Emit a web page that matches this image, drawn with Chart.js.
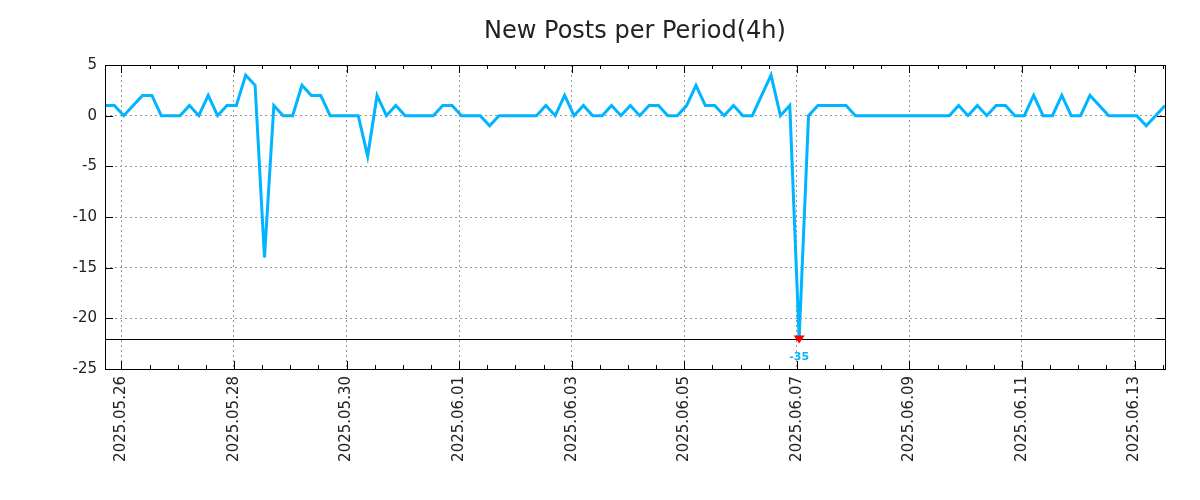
<!DOCTYPE html>
<html>
<head>
<meta charset="utf-8">
<script src="https://cdn.jsdelivr.net/npm/chart.js@4/dist/chart.umd.min.js"></script>
<style>
  html, body { margin: 0; padding: 0; background: #ffffff; }
  #wrap { width: 1200px; height: 500px; position: relative; }
</style>
</head>
<body>
<div id="wrap"><canvas id="c" width="1200" height="500"></canvas></div>
<script>
// ---- data ----
const chartTitle = 'New Posts per Period(4h)';
const periodStart = Date.UTC(2025, 4, 25, 17, 0); // first 4h period
const periodHours = 4;
const newPosts = [
  1, 1, 0, 1, 2, 2, 0, 0, 0, 1,
  0, 2, 0, 1, 1, 4, 3, -14, 1, 0,
  0, 3, 2, 2, 0, 0, 0, 0, -4, 2,
  0, 1, 0, 0, 0, 0, 1, 1, 0, 0,
  0, -1, 0, 0, 0, 0, 0, 1, 0, 2,
  0, 1, 0, 0, 1, 0, 1, 0, 1, 1,
  0, 0, 1, 3, 1, 1, 0, 1, 0, 0,
  2, 4, 0, 1, -35, 0, 1, 1, 1, 1,
  0, 0, 0, 0, 0, 0, 0, 0, 0, 0,
  0, 1, 0, 1, 0, 1, 1, 0, 0, 2,
  0, 0, 2, 0, 0, 2, 1, 0, 0, 0,
  0, -1, 0, 1
];
const xTickLabels = ['2025.05.26', '2025.05.28', '2025.05.30', '2025.06.01', '2025.06.03',
                     '2025.06.05', '2025.06.07', '2025.06.09', '2025.06.11', '2025.06.13'];
const yTickValues = [-25, -20, -15, -10, -5, 0, 5];
const yMin = -25, yMax = 5;
const clipFloor = -22;

// ---- derived ----
const H = 3600 * 1000;
const origin = Date.UTC(2025, 4, 26, 0, 0);
const toHours = ms => (ms - origin) / H;
const labelToHours = s => {
  const [y, m, d] = s.split('.').map(Number);
  return toHours(Date.UTC(y, m - 1, d));
};
const xs = newPosts.map((_, i) => toHours(periodStart + i * periodHours * H));
const points = newPosts.map((v, i) => ({ x: xs[i], y: Math.max(v, clipFloor), raw: v }));
const xTickHours = xTickLabels.map(labelToHours);
const labelByHour = {};
xTickLabels.forEach((l, i) => { labelByHour[xTickHours[i]] = l; });

const FONT = 'DejaVu Sans';
const LINE = '#00b4ff';

const framePlugin = {
  id: 'frame',
  afterDatasetsDraw(chart) {
    const { ctx, chartArea: a, scales } = chart;
    const xs_ = scales.x, ys_ = scales.y;
    ctx.save();
    // clip line
    const yc = Math.round(ys_.getPixelForValue(clipFloor)) + 0.5;
    ctx.strokeStyle = '#000';
    ctx.lineWidth = 1;
    ctx.setLineDash([]);
    ctx.beginPath();
    ctx.moveTo(a.left, yc); ctx.lineTo(a.right, yc);
    ctx.stroke();
    // border
    ctx.strokeRect(Math.round(a.left) + 0.5, Math.round(a.top) + 0.5,
                   Math.round(a.right - a.left), Math.round(a.bottom - a.top));
    // ticks on x (major + minor), mirrored
    ctx.beginPath();
    const step = 12;
    for (let h = Math.ceil(xs_.min / step) * step; h <= xs_.max; h += step) {
      const px = Math.round(xs_.getPixelForValue(h)) + 0.5;
      const len = (h % 48 === 0) ? 8 : 4;
      ctx.moveTo(px, a.bottom); ctx.lineTo(px, a.bottom - len);
      ctx.moveTo(px, a.top); ctx.lineTo(px, a.top + len);
    }
    yTickValues.forEach(v => {
      const py = Math.round(ys_.getPixelForValue(v)) + 0.5;
      ctx.moveTo(a.left, py); ctx.lineTo(a.left + 8, py);
      ctx.moveTo(a.right, py); ctx.lineTo(a.right - 8, py);
    });
    ctx.stroke();
    // clipped markers
    points.forEach(p => {
      if (p.raw < clipFloor) {
        const px = xs_.getPixelForValue(p.x);
        const py = ys_.getPixelForValue(clipFloor);
        ctx.fillStyle = '#ff0000';
        ctx.beginPath();
        ctx.moveTo(px - 5.5, py - 3);
        ctx.lineTo(px + 5.5, py - 3);
        ctx.lineTo(px, py + 5);
        ctx.closePath();
        ctx.fill();
        ctx.fillStyle = LINE;
        ctx.font = 'bold 11px "' + FONT + '"';
        ctx.textAlign = 'center';
        ctx.textBaseline = 'middle';
        ctx.fillText(String(p.raw), px, py + 19);
      }
    });
    ctx.restore();
  }
};

new Chart(document.getElementById('c'), {
  type: 'line',
  data: {
    datasets: [{
      data: points,
      borderColor: LINE,
      backgroundColor: LINE,
      borderWidth: 3,
      pointRadius: 0,
      tension: 0,
      fill: false
    }]
  },
  options: {
    responsive: false,
    animation: false,
    events: [],
    layout: { padding: { left: 0, right: 35, top: 0, bottom: 0 } },
    plugins: {
      legend: { display: false },
      tooltip: { enabled: false },
      title: {
        display: true,
        text: chartTitle,
        fullSize: false,
        color: '#222',
        font: { family: FONT, size: 24, weight: 'normal', lineHeight: 1.2 },
        padding: { top: 17, bottom: 19.2 }
      }
    },
    scales: {
      x: {
        type: 'linear',
        min: xs[0],
        max: xs[xs.length - 1],
        afterBuildTicks: s => { s.ticks = xTickHours.map(v => ({ value: v })); },
        afterFit: s => { s.height = 131; },
        grid: { color: '#999', lineWidth: 1, drawTicks: false },
        border: { display: false, dash: [2, 3] },
        ticks: {
          autoSkip: false,
          minRotation: 90,
          maxRotation: 90,
          padding: 7,
          color: '#222',
          font: { family: FONT, size: 15 },
          callback: v => labelByHour[v] || ''
        }
      },
      y: {
        min: yMin,
        max: yMax,
        afterBuildTicks: s => { s.ticks = yTickValues.map(v => ({ value: v })); },
        afterFit: s => { s.width = 105; },
        grid: { color: '#999', lineWidth: 1, drawTicks: false },
        border: { display: false, dash: [2, 3] },
        ticks: {
          padding: 8,
          color: '#222',
          font: { family: FONT, size: 15 }
        }
      }
    }
  },
  plugins: [framePlugin]
});
</script>
</body>
</html>
